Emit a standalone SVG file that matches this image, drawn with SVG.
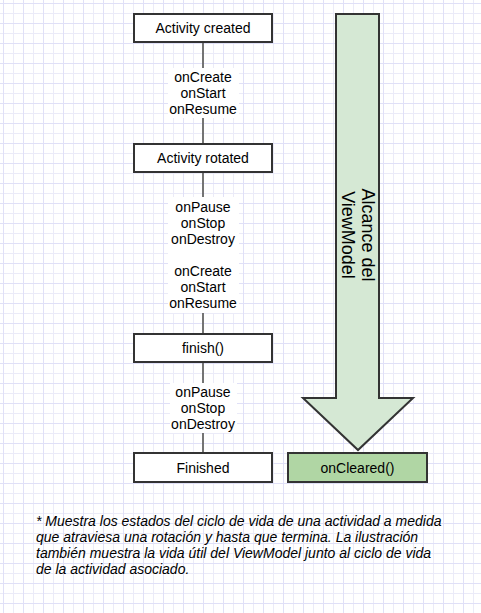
<svg xmlns="http://www.w3.org/2000/svg" width="481" height="613" viewBox="0 0 481 613">
<style>
.box{fill:#fff;stroke:#333;stroke-width:2}
.t{font-family:"Liberation Sans",Arial,sans-serif;font-size:14px;fill:#000;text-anchor:middle}
.lbl{fill:#fff}
.conn{stroke:#747474;stroke-width:2;fill:none}
.foot{font-family:"Liberation Sans",Arial,sans-serif;font-size:14px;font-style:italic;fill:#000}
</style>
<defs>
<pattern id="grid" x="3" y="3" width="20" height="20" patternUnits="userSpaceOnUse">
<rect x="0" y="0" width="20" height="20" fill="#fff"/>
<rect x="10" y="0" width="1" height="20" fill="#ebebf8"/>
<rect x="0" y="10" width="20" height="1" fill="#ebebf8"/>
<rect x="0" y="0" width="1" height="20" fill="#e0e0f7"/>
<rect x="0" y="0" width="20" height="1" fill="#e0e0f7"/>
</pattern>
</defs>
<rect width="481" height="613" fill="url(#grid)"/>
<g id="connectors">
<line class="conn" x1="203" y1="43" x2="203" y2="143"/>
<line class="conn" x1="203" y1="173" x2="203" y2="333"/>
<line class="conn" x1="203" y1="363" x2="203" y2="452"/>
<rect class="lbl" x="168" y="68" width="71" height="50"/>
<text class="t"><tspan x="203" y="82">onCreate</tspan><tspan x="203" y="98">onStart</tspan><tspan x="203" y="114">onResume</tspan></text>
<rect class="lbl" x="168" y="197" width="71" height="116"/>
<text class="t"><tspan x="203" y="212">onPause</tspan><tspan x="203" y="228">onStop</tspan><tspan x="203" y="244">onDestroy</tspan><tspan x="203" y="276">onCreate</tspan><tspan x="203" y="292">onStart</tspan><tspan x="203" y="308">onResume</tspan></text>
<rect class="lbl" x="170" y="383" width="67" height="50"/>
<text class="t"><tspan x="203" y="397">onPause</tspan><tspan x="203" y="413">onStop</tspan><tspan x="203" y="429">onDestroy</tspan></text>
</g>
<g id="activity-created">
<rect class="box" x="134" y="14" width="138" height="28"/>
<text class="t" x="203" y="33">Activity created</text>
</g>
<g id="activity-rotated">
<rect class="box" x="134" y="144" width="138" height="28"/>
<text class="t" x="203" y="163">Activity rotated</text>
</g>
<g id="finish">
<rect class="box" x="134" y="334" width="138" height="28"/>
<text class="t" x="203" y="353">finish()</text>
</g>
<g id="finished">
<rect class="box" x="134" y="453" width="138" height="29"/>
<text class="t" x="203" y="473">Finished</text>
</g>
<g id="viewmodel-scope">
<polygon points="336,14 379,14 379,398 413,398 358,450 303,398 336,398" fill="#d5e8d4" stroke="#333" stroke-width="2" stroke-linejoin="miter"/>
<g transform="translate(362,235) rotate(90)">
<text class="t" style="font-size:18px" x="0" y="0">Alcance del</text>
<text class="t" style="font-size:18px" x="0" y="20">ViewModel</text>
</g>
</g>
<g id="on-cleared">
<rect class="box" x="288" y="453" width="139" height="29" style="fill:#b0d6a4"/>
<text class="t" x="357.5" y="473">onCleared()</text>
</g>
<g id="footnote">
<text class="foot"><tspan x="36" y="526">* Muestra los estados del ciclo de vida de una actividad a medida</tspan><tspan x="36" y="542">que atraviesa una rotación y hasta que termina. La ilustración</tspan><tspan x="36" y="558">también muestra la vida útil del ViewModel junto al ciclo de vida</tspan><tspan x="36" y="574">de la actividad asociado.</tspan></text>
</g>
</svg>
